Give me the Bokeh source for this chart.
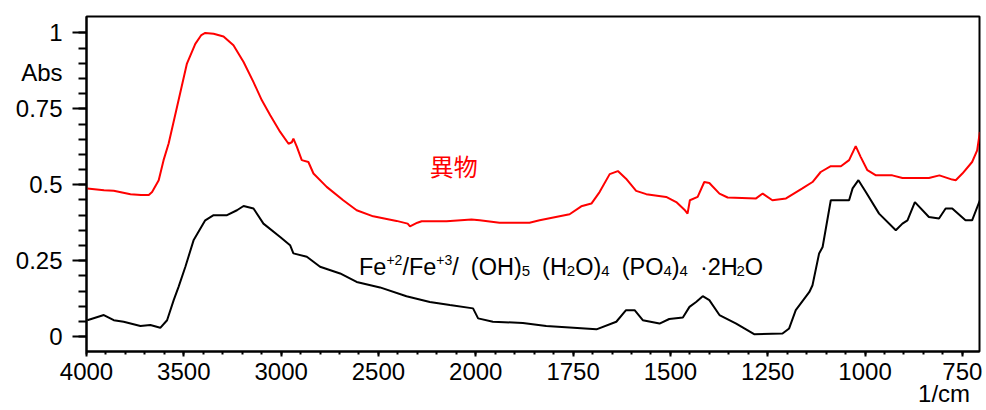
import numpy as np
from bokeh.plotting import figure
from bokeh.models import FixedTicker, Label, ColumnDataSource, LinearAxis
from bokeh.core.properties import value, field
from bokeh.embed import file_html
from bokeh.resources import INLINE

# ---------------- data ----------------
WN_RED = [3996, 3910, 3860, 3774, 3720, 3680, 3663, 3629, 3604, 3578, 3535, 3484, 3441, 3410,
          3390, 3347, 3296, 3245, 3193, 3142, 3099, 3056, 3005, 2962, 2945, 2937, 2919, 2894,
          2860, 2834, 2766, 2681, 2612, 2527, 2407, 2350, 2338, 2300, 2278, 2150, 2022, 1990,
          1939, 1862, 1836, 1759, 1729, 1703, 1682, 1656, 1635, 1614, 1588, 1562, 1511, 1485,
          1464, 1456, 1450, 1430, 1413, 1400, 1374, 1353, 1280, 1263, 1238, 1203, 1161, 1135,
          1114, 1088, 1062, 1041, 1024, 1011, 994, 972, 930, 904, 836, 809, 776, 767, 750,
          725, 712, 705]
ABS_RED = [0.488, 0.482, 0.480, 0.469, 0.466, 0.466, 0.476, 0.515, 0.581, 0.636, 0.756, 0.899,
           0.964, 0.993, 1.000, 0.997, 0.988, 0.959, 0.904, 0.838, 0.778, 0.729, 0.674, 0.635,
           0.640, 0.652, 0.625, 0.581, 0.575, 0.537, 0.493, 0.449, 0.416, 0.396, 0.381, 0.372,
           0.363, 0.375, 0.380, 0.380, 0.386, 0.383, 0.375, 0.375, 0.383, 0.403, 0.429, 0.438,
           0.476, 0.535, 0.545, 0.520, 0.480, 0.469, 0.460, 0.443, 0.418, 0.405, 0.449, 0.460,
           0.509, 0.506, 0.471, 0.458, 0.455, 0.471, 0.449, 0.455, 0.488, 0.509, 0.542, 0.561,
           0.561, 0.581, 0.627, 0.591, 0.548, 0.531, 0.531, 0.522, 0.522, 0.531, 0.517, 0.515,
           0.537, 0.575, 0.613, 0.674]

WN_BLACK = [3996, 3911, 3860, 3809, 3723, 3672, 3621, 3586, 3552, 3527, 3492, 3450, 3390, 3347,
            3278, 3227, 3193, 3142, 3091, 3005, 2954, 2937, 2868, 2800, 2697, 2612, 2492, 2356,
            2236, 2133, 2014, 1994, 1956, 1879, 1819, 1759, 1690, 1639, 1614, 1592, 1571, 1528,
            1503, 1468, 1451, 1434, 1417, 1400, 1374, 1331, 1285, 1212, 1195, 1178, 1143, 1135,
            1118, 1109, 1088, 1041, 1032, 1017, 998, 964, 921, 904, 891, 872, 836, 810, 793,
            776, 742, 725, 705]
ABS_BLACK = [0.054, 0.071, 0.054, 0.049, 0.035, 0.038, 0.029, 0.054, 0.120, 0.164, 0.230, 0.317,
             0.383, 0.400, 0.400, 0.416, 0.430, 0.422, 0.372, 0.328, 0.301, 0.274, 0.263, 0.230,
             0.208, 0.180, 0.162, 0.133, 0.114, 0.104, 0.093, 0.060, 0.049, 0.045, 0.035, 0.030,
             0.024, 0.049, 0.087, 0.087, 0.054, 0.043, 0.058, 0.063, 0.098, 0.114, 0.133, 0.120,
             0.071, 0.043, 0.008, 0.010, 0.027, 0.087, 0.147, 0.169, 0.274, 0.295, 0.449, 0.449,
             0.488, 0.515, 0.476, 0.405, 0.350, 0.372, 0.383, 0.443, 0.394, 0.389, 0.422, 0.422,
             0.383, 0.383, 0.449]

X_TICK_WN = [4000, 3500, 3000, 2500, 2000, 1750, 1500, 1250, 1000, 750]
X_TICK_LABELS = ["4000", "3500", "3000", "2500", "2000", "1750", "1500", "1250", "1000", "750"]
Y_TICKS = [0.0, 0.25, 0.5, 0.75, 1.0]
Y_TICK_LABELS = ["0", "0.25", "0.5", "0.75", "1"]
Y_TITLE, Y_TITLE_AT = "Abs", 0.87
X_TITLE, X_TITLE_AT = "1/cm", 797

RED_NAME = "異物"
# formula pieces: (text, kind)  kind: n = normal, sup, sub, gap
BLACK_NAME = [("Fe", "n"), ("+2", "sup"), ("/Fe", "n"), ("+3", "sup"), ("/", "n"), ("", "gap"),
              ("(OH)", "n"), ("5", "sub"), ("", "gap"), ("(H", "n"), ("2", "sub"), ("O)", "n"),
              ("4", "sub"), ("", "gap"), ("(PO", "n"), ("4", "sub"), (")", "n"), ("4", "sub"),
              ("", "gap"), ("·2H", "n"), ("2", "sub"), ("O", "n")]

# ---------------- axis transform (FT-IR style: 4000-2000 compressed x2) ----------------
def to_axis(wn):
    wn = np.asarray(wn, dtype=float)
    return np.where(wn >= 2000, (4000.0 - wn) / 500.0, 4.0 + (2000.0 - wn) / 250.0)

W, H = 986, 410
BL, BR, BT, BB = 86, 7, 16, 59
FRAME_W, FRAME_H = W - BL - BR, H - BT - BB
X0, X1 = 0.0, float(to_axis(706))
Y0, Y1 = -0.049, 1.054
PXX = FRAME_W / (X1 - X0)
PXY = FRAME_H / (Y1 - Y0)

FONT = "Liberation Sans"

p = figure(width=W, height=H, x_range=(X0, X1), y_range=(Y0, Y1),
           output_backend="svg", toolbar_location=None,
           min_border_left=BL, min_border_right=BR, min_border_top=BT, min_border_bottom=BB)
p.background_fill_color = "white"
p.border_fill_color = "white"
p.outline_line_color = "black"
p.outline_line_width = 2
p.outline_line_alpha = 1
p.grid.visible = False

xt = [float(v) for v in to_axis(X_TICK_WN)]
x_minor = [round(float(v), 3) for v in np.arange(0, X1, 0.2)]
p.xaxis.ticker = FixedTicker(ticks=xt, minor_ticks=x_minor)
p.xaxis.major_label_overrides = {t: lab for t, lab in zip(xt, X_TICK_LABELS)}
p.yaxis.ticker = FixedTicker(ticks=Y_TICKS,
                             minor_ticks=[round(float(v), 2) for v in np.arange(0, 1.0001, 0.05)])
# inner y axis: tick marks only (labels live on the outer axis together with "Abs")
p.yaxis.major_label_overrides = {t: "" for t in Y_TICKS}

for ax in (p.xaxis, p.yaxis):
    ax.axis_line_width = 2
    ax.axis_line_color = "black"
    ax.major_tick_line_width = 2
    ax.minor_tick_line_width = 2
    ax.major_tick_in = 0
    ax.minor_tick_in = 0
    ax.major_label_text_font = FONT
    ax.major_label_text_font_size = "24px"
    ax.major_label_text_color = "black"
p.xaxis.major_tick_out = 5
p.xaxis.minor_tick_out = 3
p.xaxis.major_label_standoff = 6
p.yaxis.major_tick_out = 14
p.yaxis.minor_tick_out = 8
p.yaxis.major_label_standoff = 0


def label_axis(ticks, labels, standoff):
    a = LinearAxis(ticker=FixedTicker(ticks=ticks, minor_ticks=[]),
                   major_label_overrides={t: l for t, l in zip(ticks, labels)})
    a.axis_line_color = None
    a.major_tick_line_color = None
    a.minor_tick_line_color = None
    a.major_tick_out = 0
    a.major_tick_in = 0
    a.minor_tick_out = 0
    a.minor_tick_in = 0
    a.major_label_standoff = standoff
    a.major_label_text_font = FONT
    a.major_label_text_font_size = "24px"
    a.major_label_text_color = "black"
    return a


# outer left axis: the value labels plus the "Abs" caption
p.add_layout(label_axis(Y_TICKS + [Y_TITLE_AT], Y_TICK_LABELS + [Y_TITLE], 10), "left")
# outer bottom axis: the "1/cm" caption
xcap = float(to_axis(X_TITLE_AT))
p.add_layout(label_axis([xcap], [X_TITLE], -3), "below")

# spectra
p.line(x=to_axis(WN_RED), y=ABS_RED, line_color="#ff0000", line_width=2)
p.line(x=to_axis(WN_BLACK), y=ABS_BLACK, line_color="black", line_width=2)

# series names
p.add_layout(Label(x=float(to_axis(2236)), y=0.562, text=RED_NAME, text_color="#ff0000",
                   text_font="Noto Sans CJK JP", text_font_size="24px",
                   text_baseline="middle", text_align="left"))

ADV = {"F": 611, "e": 556, "+": 584, "/": 278, "O": 778, "H": 722, "P": 667, " ": 278,
       "(": 333, ")": 333, "·": 278}
for d in "0123456789":
    ADV[d] = 556
SIZES = {"n": 23.5, "sup": 14.0, "sub": 15.0}
SHIFT = {"n": 0.0, "sup": 7.0, "sub": -4.0}
GAP = 12.0
ax0, ay0 = float(to_axis(2600)), 0.2286
xs, ys, ts, fs = [], [], [], []
cur = 0.0
for txt, kind in BLACK_NAME:
    if kind == "gap":
        cur += GAP
        continue
    size = SIZES[kind]
    xs.append(ax0 + cur / PXX)
    ys.append(ay0 + SHIFT[kind] / PXY)
    ts.append(txt)
    fs.append(f"{size}px")
    cur += sum(ADV.get(c, 1000) for c in txt) * size / 1000.0
src = ColumnDataSource(dict(x=xs, y=ys, text=ts, size=fs))
p.text(x="x", y="y", text="text", source=src, text_font_size=field("size"),
       text_font=value(FONT), text_color="black",
       text_baseline="alphabetic", text_align="left")

open("out.html", "w").write(file_html(p, INLINE))
